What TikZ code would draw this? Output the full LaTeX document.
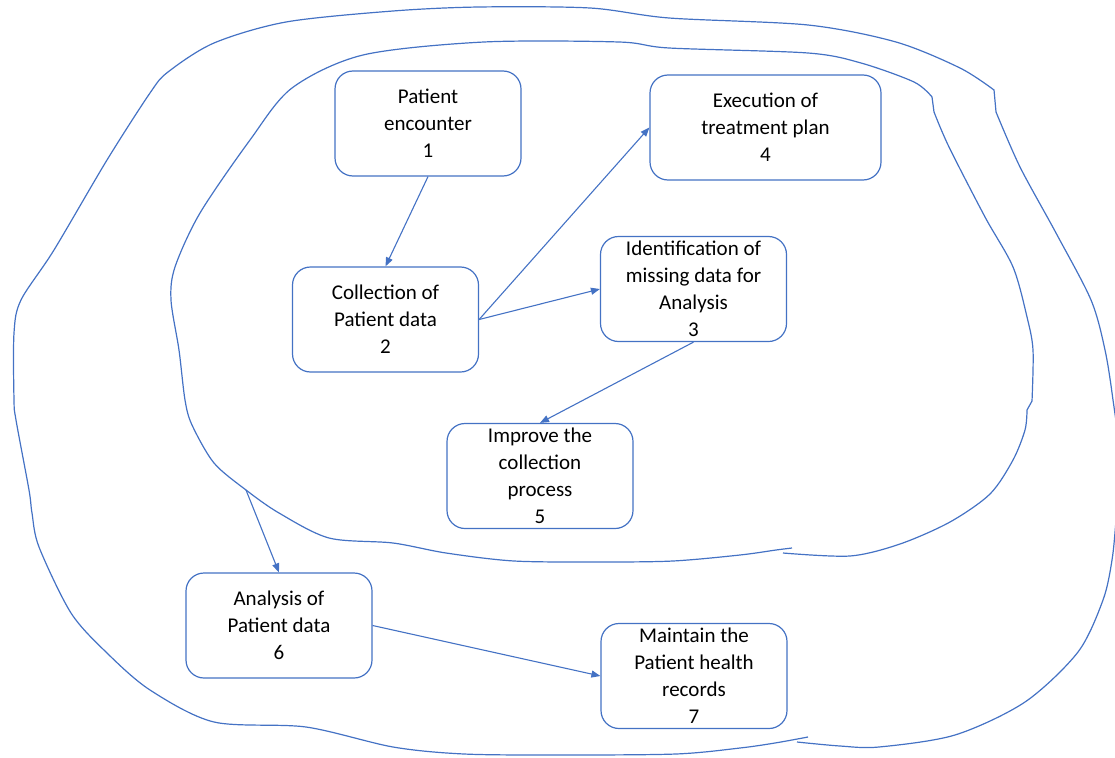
\documentclass[tikz,border=0pt]{standalone}
\usepackage{fontspec}
\setmainfont{Carlito}
\usetikzlibrary{arrows.meta}
\definecolor{ink}{HTML}{4472C4}
\begin{document}
\begin{tikzpicture}[x=1pt,y=-1pt,
  stepbox/.style={draw=ink, line width=1.2pt, rounded corners=18pt, fill=white,
    align=center, inner sep=0pt, font=\fontsize{21}{27}\selectfont,
    minimum width=186pt, minimum height=105pt},
  link/.style={draw=ink, line width=1.1pt, -{Triangle[length=9pt,width=7pt]}},
  loop/.style={draw=ink, line width=1.2pt, line join=round}]
\useasboundingbox (0,0) rectangle (1115,757);
\clip (0,0) rectangle (1115,757);

% inner boundary (freehand, open at its overlap)
\draw[loop] plot[smooth,tension=0.5] coordinates {(783,553) (850,556) (900,544) (950,522) (990,494) (1013,460) (1025,430) (1027,410)}
  --(1032,401)
  --plot[smooth,tension=0.5] coordinates {(1032,401) (1033,350) (1027,317) (1013,267) (985,217) (949,147) (934,112)}
  --(932,97)
  --plot[smooth,tension=0.5] coordinates {(932,97) (914,82) (861,63) (808,53) (669,48) (619,42) (484,42) (363,55) (292,88) (250,140) (200,213) (175,267) (171,300) (179,350) (185,400) (192,425) (214,463) (246,490) (279,513) (329,538) (393,543) (446,553) (514,561) (600,562) (673,561) (740,555) (776,550) (792,548)};

% outer boundary
\draw[loop] plot[smooth,tension=0.5] coordinates {(797,742) (840,746) (879,747) (955,735) (1025,702) (1078,652) (1103,600) (1112,560) (1116,520) (1120,460) (1113,400) (1105,350) (1091,300) (1056,233) (1020,167) (996,112)}
  --(994,90)
  --plot[smooth,tension=0.5] coordinates {(994,90) (960,68) (896,42) (808,25) (669,18) (590,8) (479,7) (393,11) (286,22) (214,43) (168,72) (150,93) (107,160) (54,250) (21,300) (14,333) (14,400) (16,420) (29,490) (32,513) (39,547) (71,613) (107,653) (150,690) (214,722) (306,727) (393,747) (464,754) (560,755) (676,754) (740,748) (775,743) (808,737)};

% process steps
\node[stepbox] (n1) at (428,123.5) {Patient\\encounter\\1};
\node[stepbox] (n2) at (385.5,319.5) {Collection of\\Patient data\\2};
\node[stepbox, minimum width=231pt] (n4) at (765.5,127.5) {Execution of\\treatment plan\\4};
\node[stepbox] (n3) at (693.5,289) {Identification of\\missing data for\\Analysis\\3};
\node[stepbox] (n5) at (540,476) {Improve the\\collection\\process\\5};
\node[stepbox] (n6) at (279,625.5) {Analysis of\\Patient data\\6};
\node[stepbox] (n7) at (694,676) {Maintain the\\Patient health\\records\\7};

\coordinate (tap) at (246,490);

% flow
\draw[link] (n1.south) -- (n2.north);
\draw[link] (n2.east) -- (n4.west);
\draw[link] (n2.east) -- (n3.west);
\draw[link] (n3.south) -- (n5.north);
\draw[link] (tap) -- (n6.north);
\draw[link] (n6.east) -- (n7.west);
\end{tikzpicture}
\end{document}
